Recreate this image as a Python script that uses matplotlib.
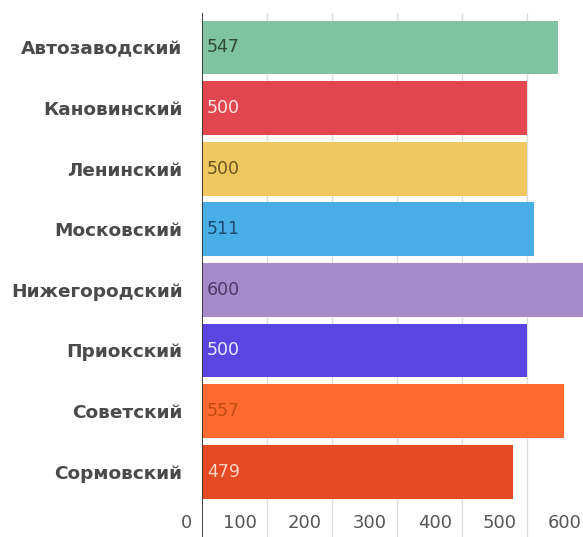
import matplotlib
matplotlib.use('Agg')
import matplotlib.pyplot as plt
from matplotlib.transforms import ScaledTranslation

districts = ['Автозаводский', 'Кановинский', 'Ленинский', 'Московский',
             'Нижегородский', 'Приокский', 'Советский', 'Сормовский']
values = [547, 500, 500, 511, 600, 500, 557, 479]
barColors = ['#7fc3a2', '#e2474f', '#efc862', '#4aaee6',
             '#a68bcb', '#5b45e0', '#ff6a30', '#e64a24']
valueColors = ['#2f4a3c', '#ffe4e4', '#6b5420', '#1c4a6e',
               '#4a3a66', '#ece8ff', '#c04a10', '#ffd4c4']
xTicks = [0, 100, 200, 300, 400, 500, 600]

W, H = 583, 537
fig = plt.figure(figsize=(W / 100, H / 100), dpi=100)
# axis starts at px 202, 0.65 px per unit, reaches past the right edge
ax = fig.add_axes([202 / W, 0, 390 / W, 524 / H])

pitch = 60.6
top = -(47.5 - 13) / pitch
ax.set_ylim(top + 524 / pitch, top)
ax.set_xlim(0, 600)

ax.barh(range(len(values)), values, height=0.89, color=barColors, zorder=2)

# grid
for t in xTicks[1:]:
    ax.axvline(t, color='#dddddd', lw=1, zorder=1)
ax.axvline(0, color='#333333', lw=1.3, zorder=3)

for s in ax.spines.values():
    s.set_visible(False)
ax.set_xticks([])
ax.set_yticks(range(len(districts)))
ax.set_yticklabels(districts, fontsize=13.3, fontweight='bold', color='#4a4a4a')
ax.tick_params(axis='y', length=0, pad=14)

# value labels inside bars
for i, v in enumerate(values):
    ax.text(0, i, str(v), ha='left', va='center', fontsize=12.5,
            color=valueColors[i], zorder=4,
            transform=ax.transData + ScaledTranslation(5 / 100, 0, fig.dpi_scale_trans))

# x tick labels sit left of their gridline
yLab = (523 - 47.5) / pitch
for t in xTicks:
    ax.text(t, yLab, str(t), ha='right', va='center', fontsize=13, color='#555555',
            transform=ax.transData + ScaledTranslation(-10 / 100, 0, fig.dpi_scale_trans))

fig.savefig('out.png', dpi=100)
